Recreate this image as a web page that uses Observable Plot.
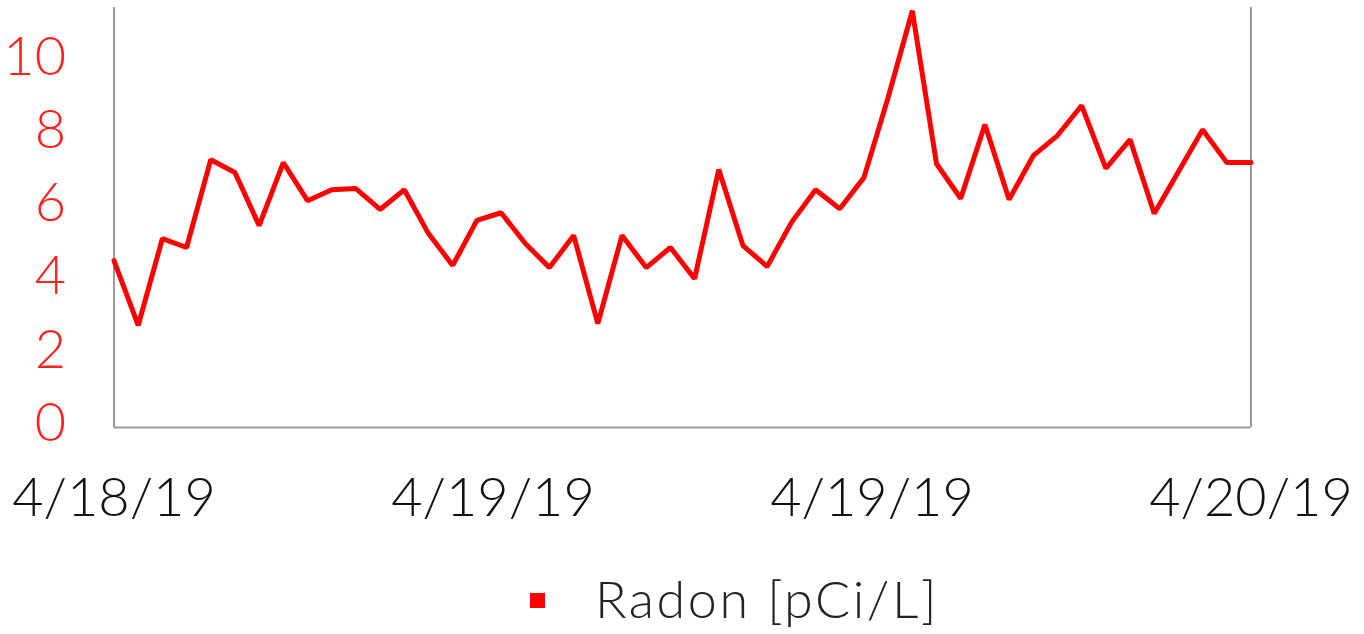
<!DOCTYPE html>
<html>
<head>
<meta charset="utf-8">
<script src="https://cdn.jsdelivr.net/npm/d3@7"></script>
<script src="https://cdn.jsdelivr.net/npm/@observablehq/plot@0.6"></script>
<style>
  body { margin: 0; background: #fff; font-family: Lato, "Open Sans", sans-serif; }
  #wrap { position: relative; width: 1364px; height: 634px; overflow: hidden; }
  #legend-sw { position: absolute; left: 530px; top: 593px; width: 15px; height: 15px; background: #ff0000; }
  #legend-tx { position: absolute; left: 595px; top: 568px; font-size: 52px; line-height: 60px; font-weight: 300; letter-spacing: 2.6px; color: #222; white-space: nowrap; }
</style>
</head>
<body>
<div id="wrap"><div id="chart"></div><div id="legend-sw"></div><div id="legend-tx"></div></div>
<script>
const seriesName = "Radon [pCi/L]";
const radon = [4.56, 2.79, 5.16, 4.92, 7.32, 6.97, 5.52, 7.24, 6.20, 6.50,
               6.53, 5.96, 6.50, 5.30, 4.43, 5.66, 5.87, 5.03, 4.37, 5.25,
               2.84, 5.25, 4.37, 4.92, 4.07, 7.05, 4.97, 4.40, 5.60, 6.50,
               5.98, 6.83, 9.02, 11.39, 7.21, 6.26, 8.28, 6.23, 7.43, 7.98,
               8.80, 7.08, 7.87, 5.85, 6.99, 8.14, 7.24, 7.24];
const xTickLabels = ["4/18/19", "4/19/19", "4/19/19", "4/20/19"];
const yTicks = [0, 2, 4, 6, 8, 10];

const data = radon.map((v, i) => ({i, v}));
const n = radon.length - 1;
const xTickPos = xTickLabels.map((_, k) => k * n / (xTickLabels.length - 1));

document.getElementById("legend-tx").textContent = seriesName;

const chart = Plot.plot({
  width: 1364,
  height: 560,
  marginLeft: 113.5,
  marginRight: 113.5,
  marginTop: 7,
  marginBottom: 133,
  style: {fontFamily: "Lato, 'Open Sans', sans-serif", background: "#fff"},
  x: {domain: [0, n], label: null},
  y: {domain: [0, 11.48], label: null},
  marks: [
    Plot.ruleX([0, n], {stroke: "#9a9a9a", strokeWidth: 2}),
    Plot.ruleY([0], {stroke: "#9a9a9a", strokeWidth: 2}),
    Plot.axisY(yTicks, {label: null, tickSize: 0, tickPadding: 48, fontSize: 54, fontWeight: 300, fill: "#ff2020", dy: -4}),
    Plot.axisX(xTickPos, {label: null, tickSize: 0, tickPadding: 50, fontSize: 54, fontWeight: 300, fill: "#111", tickFormat: (d, k) => xTickLabels[k]}),
    Plot.line(data, {x: "i", y: "v", stroke: "#ff0000", strokeWidth: 5, strokeLinejoin: "miter", clip: false})
  ]
});
document.getElementById("chart").appendChild(chart);
</script>
</body>
</html>
